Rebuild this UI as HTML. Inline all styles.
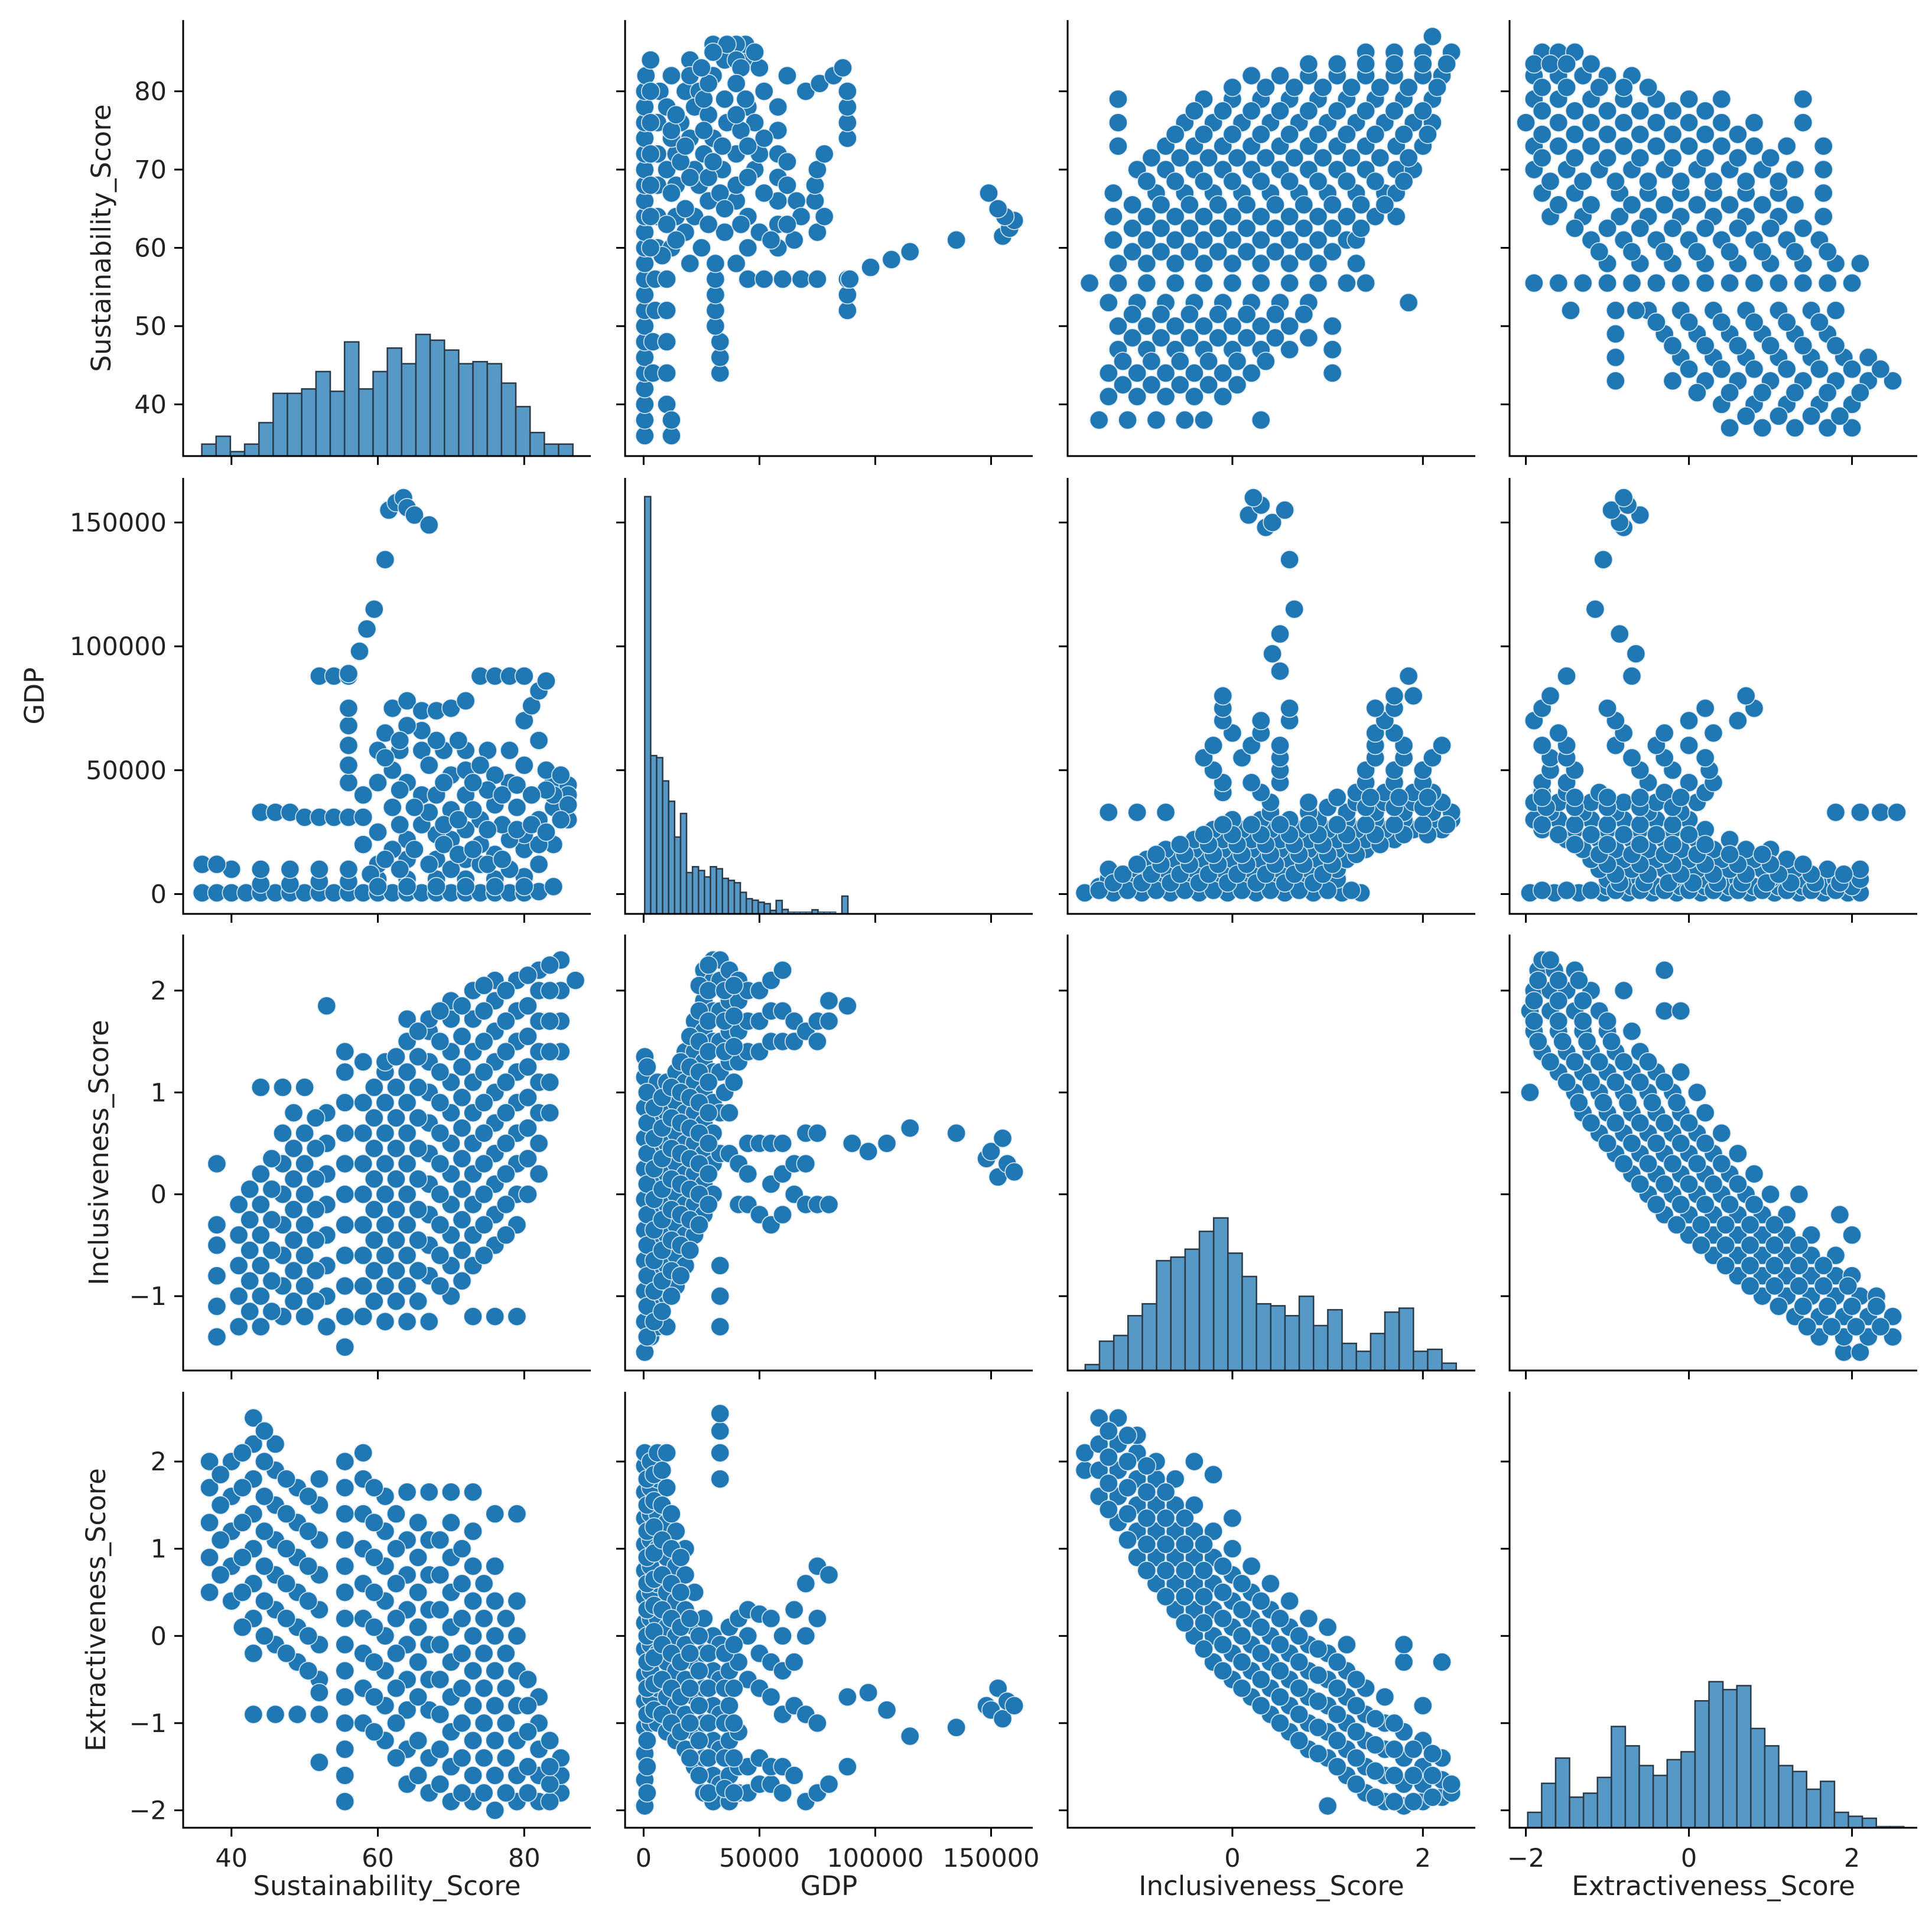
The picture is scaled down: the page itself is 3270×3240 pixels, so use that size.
<!DOCTYPE html>
<html><head><meta charset="utf-8"><style>
html,body{margin:0;padding:0;background:#fff}
svg{display:block}
text{font-family:"DejaVu Sans","Liberation Sans",sans-serif;fill:#222}
</style></head><body>
<svg id="chart" xmlns="http://www.w3.org/2000/svg" width="3270" height="3240" viewBox="0 0 3270 3240"></svg>
<script>
// ---- data ----
const varNames = ["Sustainability_Score","GDP","Inclusiveness_Score","Extractiveness_Score"];
const tickS = [40,50,60,70,80];
const tickSx = [40,60,80];
const tickG = [0,50,100,150];          // thousands
const tickGLabels = ["0","50000","100000","150000"];
const tickIx = [0,2];
const tickIy = [-1,0,1,2];
const tickEx = [-2,0,2];
const tickEy = [-2,-1,0,1,2];

const histS = [35,58,13,35,98,184,184,197,248,190,335,197,248,317,271,357,340,311,271,277,271,214,145,69,35,35];
const histG = [1434,544,537,457,387,264,345,142,162,149,127,162,155,122,115,107,74,52,47,40,35,12,46,15,7,7,7,7,14,7,7,7,2,61,2,2,2,2,2,2,2,2,2,2,2,2,2,2,2,2,2,2,2,2,2,2,2,2,2,2,2,2];
const histI = [30,148,177,277,337,555,573,613,703,771,593,475,337,327,277,375,227,307,137,97,187,295,315,97,107,37];
const histE = [78,225,353,155,175,255,513,415,315,265,345,385,643,740,700,720,503,415,315,285,195,235,78,58,48,8,8];

// pair arrays: flat [x,y,...]
const pairSG = [36,0.5,38,0.5,40,0.5,42,0.5,44,0.5,46,0.5,48,0.5,50,0.5,52,0.5,54,0.5,56,0.5,58,0.5,60,0.5,62,0.5,64,0.5,66,0.5,68,0.5,70,0.5,72,0.5,74,0.5,76,0.5,78,0.5,80,0.5,82,1,
44,4,48,4,52,5,56,5,60,6,64,6,68,6,72,6,76,6,80,7,
40,10,44,10,48,10,52,10,56,10,60,12,64,14,68,14,72,14,76,16,80,18,70,10,74,12,78,10,82,12,84,20,82,20,86,30,
36,12,38,12,44,33,46,33,48,33,50,31,52,31,54,31,56,31,58,31,
52,88,54,88,56,88,74,88,76,88,78,88,80,88,
60,58,63,58,66,58,69,58,72,58,75,58,78,58,
56,45,56,52,56,60,56,68,56,75,
58,20,60,25,62,35,64,45,62,50,61,65,62,75,64,78,66,74,68,62,70,48,72,40,74,30,76,36,78,45,80,52,82,62,84,46,86,44,85,38,82,30,80,24,78,22,74,20,72,26,70,22,68,24,66,28,64,22,62,18,66,40,68,40,70,34,72,50,74,52,76,48,66,66,64,68,68,74,70,75,72,78,80,70,81,76,82,82,83,86,58,40,60,45,63,28,67,33,75,42,77,28,79,35,84,35,86,40,84,40,86,36,83,42,
59,8,61,14,63,10,65,18,67,12,69,20,71,16,73,18,75,12,77,14,79,26,81,28,83,25,85,30,69,28,71,30,73,34,75,26,77,40,79,44,81,40,83,50,85,48,60,3,64,3,68,3,72,3,76,3,80,3,84,3,65,35,63,42,61,55,63,62,67,52,69,45,71,62,73,45,
56,89,57.5,98,58.5,107,59.5,115,61,135,61.5,155,62.5,158,63.5,160,64,156,65,153,67,149];

const pairSI = [38,-1.4,38,-1.1,38,-0.8,38,-0.5,38,-0.3,38,0.3,
41,-1.3,41,-1,41,-0.7,41,-0.4,41,-0.1,
44,-1.3,44,-1,44,-0.7,44,-0.4,44,-0.1,44,0.2,44,1.05,
47,-1.2,47,-0.9,47,-0.6,47,-0.3,47,0,47,0.3,47,0.6,47,1.05,
50,-1.2,50,-0.9,50,-0.6,50,-0.3,50,0,50,0.3,50,0.6,50,1.05,
53,-1.3,53,-1,53,-0.7,53,-0.4,53,-0.1,53,0.2,53,0.5,53,0.8,53,1.85,
55.5,-1.5,55.5,-1.2,55.5,-0.9,55.5,-0.6,55.5,-0.3,55.5,0,55.5,0.3,55.5,0.6,55.5,0.9,55.5,1.2,55.5,1.4,
58,-1.2,58,-0.9,58,-0.6,58,-0.3,58,0,58,0.3,58,0.6,58,0.9,58,1.3,
61,-1.25,61,-0.9,61,-0.6,61,-0.3,61,0,61,0.3,61,0.6,61,0.9,61,1.2,61,1.3,
64,-1.25,64,-0.9,64,-0.6,64,-0.3,64,0,64,0.3,64,0.6,64,0.9,64,1.2,64,1.5,64,1.72,
67,-1.25,67,-0.8,67,-0.5,67,-0.2,67,0.1,67,0.4,67,0.7,67,1,67,1.3,67,1.6,67,1.72,
70,-1,70,-0.7,70,-0.4,70,-0.1,70,0.2,70,0.5,70,0.8,70,1.1,70,1.4,70,1.72,70,1.9,
73,-1.2,73,-0.7,73,-0.4,73,-0.1,73,0.2,73,0.5,73,0.8,73,1.1,73,1.4,73,1.72,73,2,
76,-1.2,76,-0.5,76,-0.2,76,0.1,76,0.4,76,0.7,76,1,76,1.3,76,1.6,76,1.9,76,2.1,
79,-1.2,79,-0.3,79,0,79,0.3,79,0.6,79,0.9,79,1.2,79,1.5,79,1.8,79,2.1,
82,0.2,82,0.5,82,0.8,82,1.1,82,1.4,82,1.7,82,2,82,2.2,
85,1.4,85,1.7,85,2,85,2.3,87,2.1,
42.5,-1.15,42.5,-0.85,42.5,-0.55,42.5,-0.25,42.5,0.05,
45.5,-1.15,45.5,-0.85,45.5,-0.55,45.5,-0.25,45.5,0.05,45.5,0.35,
48.5,-1.05,48.5,-0.75,48.5,-0.45,48.5,-0.15,48.5,0.15,48.5,0.45,48.5,0.8,
51.5,-1.05,51.5,-0.75,51.5,-0.45,51.5,-0.15,51.5,0.15,51.5,0.45,51.5,0.75,
59.5,-1.05,59.5,-0.75,59.5,-0.45,59.5,-0.15,59.5,0.15,59.5,0.45,59.5,0.75,59.5,1.05,
62.5,-1.05,62.5,-0.75,62.5,-0.45,62.5,-0.15,62.5,0.15,62.5,0.45,62.5,0.75,62.5,1.05,62.5,1.35,
65.5,-1.05,65.5,-0.75,65.5,-0.45,65.5,-0.15,65.5,0.15,65.5,0.45,65.5,0.75,65.5,1.05,65.5,1.35,65.5,1.6,
68.5,-0.9,68.5,-0.6,68.5,-0.3,68.5,0,68.5,0.3,68.5,0.6,68.5,0.9,68.5,1.2,68.5,1.5,68.5,1.8,
71.5,-0.85,71.5,-0.55,71.5,-0.25,71.5,0.05,71.5,0.35,71.5,0.65,71.5,0.95,71.5,1.25,71.5,1.55,71.5,1.85,
74.5,-0.6,74.5,-0.3,74.5,0,74.5,0.3,74.5,0.6,74.5,0.9,74.5,1.2,74.5,1.5,74.5,1.8,74.5,2.05,
77.5,-0.4,77.5,-0.1,77.5,0.2,77.5,0.5,77.5,0.8,77.5,1.1,77.5,1.4,77.5,1.7,77.5,2,
80.5,0,80.5,0.35,80.5,0.65,80.5,0.95,80.5,1.25,80.5,1.55,80.5,1.85,80.5,2.15,
83.5,0.8,83.5,1.1,83.5,1.4,83.5,1.7,83.5,2,83.5,2.25];

const pairSE = [37,0.5,37,0.9,37,1.3,37,1.7,37,2,
40,0.4,40,0.8,40,1.2,40,1.6,40,2,
43,-0.2,43,0.2,43,0.6,43,1,43,1.4,43,1.8,43,2.2,43,2.5,43,-0.9,
46,-0.1,46,0.3,46,0.7,46,1.1,46,1.5,46,1.9,46,2.2,46,-0.9,
49,-0.3,49,0.1,49,0.5,49,0.9,49,1.3,49,1.7,49,-0.9,
52,-0.5,52,-0.1,52,0.3,52,0.7,52,1.1,52,1.5,52,1.8,52,-0.9,52,-0.65,52,-1.45,
55.5,-1.9,55.5,-1.6,55.5,-1.3,55.5,-1,55.5,-0.7,55.5,-0.4,55.5,-0.1,55.5,0.2,55.5,0.5,55.5,0.8,55.5,1.1,55.5,1.4,55.5,1.7,55.5,2,
58,-1,58,-0.6,58,-0.2,58,0.2,58,0.6,58,1,58,1.4,58,1.8,58,2.1,
61,-1.2,61,-0.8,61,-0.4,61,0,61,0.4,61,0.8,61,1.2,61,1.6,
64,-1.7,64,-1.3,64,-0.85,64,-0.5,64,-0.1,64,0.3,64,0.7,64,1.1,64,1.65,
67,-1.8,67,-1.4,67,-0.85,67,-0.5,67,-0.1,67,0.3,67,0.7,67,1.1,67,1.65,
70,-1.9,70,-1.5,70,-1.1,70,-0.7,70,-0.3,70,0.1,70,0.5,70,0.9,70,1.3,70,1.65,
73,-1.9,73,-1.6,73,-1.2,73,-0.8,73,-0.4,73,0,73,0.4,73,0.8,73,1.2,73,1.65,
76,-2,76,-1.6,76,-1.2,76,-0.8,76,-0.4,76,0,76,0.4,76,0.8,76,1.4,
79,-1.9,79,-1.6,79,-1.2,79,-0.8,79,-0.4,79,0,79,0.4,79,1.4,
82,-1.9,82,-1.6,82,-1.3,82,-1,82,-0.7,
85,-1.8,85,-1.6,85,-1.4,
38.5,0.7,38.5,1.1,38.5,1.5,38.5,1.85,
41.5,0.1,41.5,0.5,41.5,0.9,41.5,1.3,41.5,1.7,41.5,2.1,
44.5,0,44.5,0.4,44.5,0.8,44.5,1.2,44.5,1.6,44.5,2,44.5,2.35,
47.5,-0.2,47.5,0.2,47.5,0.6,47.5,1,47.5,1.4,47.5,1.8,
50.5,-0.4,50.5,0,50.5,0.4,50.5,0.8,50.5,1.2,50.5,1.6,
59.5,-1.1,59.5,-0.7,59.5,-0.3,59.5,0.1,59.5,0.5,59.5,0.9,59.5,1.3,59.5,1.7,
62.5,-1.4,62.5,-1,62.5,-0.6,62.5,-0.2,62.5,0.2,62.5,0.6,62.5,1,62.5,1.4,
65.5,-1.6,65.5,-1.2,65.5,-0.7,65.5,-0.3,65.5,0.1,65.5,0.5,65.5,0.9,65.5,1.3,
68.5,-1.7,68.5,-1.3,68.5,-0.9,68.5,-0.5,68.5,-0.1,68.5,0.3,68.5,0.7,68.5,1.1,
71.5,-1.8,71.5,-1.4,71.5,-1,71.5,-0.6,71.5,-0.2,71.5,0.2,71.5,0.6,71.5,1,
74.5,-1.8,74.5,-1.4,74.5,-1,74.5,-0.6,74.5,-0.2,74.5,0.2,74.5,0.6,
77.5,-1.8,77.5,-1.4,77.5,-1,77.5,-0.6,77.5,-0.2,77.5,0.2,
80.5,-1.8,80.5,-1.5,80.5,-1.1,80.5,-0.8,80.5,-0.5,
83.5,-1.9,83.5,-1.7,83.5,-1.5,83.5,-1.2];

const pairGI = [0.5,-1.55,0.5,-1.25,0.5,-0.95,0.5,-0.65,0.5,-0.35,0.5,-0.05,0.5,0.25,0.5,0.55,0.5,0.85,0.5,1.15,0.5,1.35,
3,-1.4,3,-1.1,3,-0.8,3,-0.5,3,-0.2,3,0.1,3,0.4,3,0.7,3,1,
6,-1.3,6,-1,6,-0.7,6,-0.4,6,-0.1,6,0.2,6,0.5,6,0.8,6,1.1,
10,-1.3,10,-1,10,-0.7,10,-0.4,10,-0.1,10,0.2,10,0.5,10,0.8,10,1.1,
14,-0.9,14,-0.6,14,-0.3,14,0,14,0.3,14,0.6,14,0.9,14,1.2,
18,-0.7,18,-0.4,18,-0.1,18,0.2,18,0.5,18,0.8,18,1.1,18,1.4,
22,-0.4,22,-0.1,22,0.2,22,0.5,22,0.8,22,1.1,22,1.4,22,1.7,
26,-0.2,26,0.1,26,0.4,26,0.7,26,1,26,1.3,26,1.6,26,1.9,26,2.2,
30,0,30,0.3,30,0.6,30,0.9,30,1.2,30,1.5,30,1.8,30,2.1,30,2.3,
33,-1.3,33,-1,33,-0.7,33,0.4,33,0.8,33,1.2,33,1.5,33,1.8,33,2.1,33,2.3,
37,0.4,37,0.8,37,1.3,37,1.6,37,1.9,37,2.2,
41,-0.1,41,0.3,41,1.3,41,1.6,41,1.9,41,2.1,
45,-0.1,45,0.2,45,0.5,45,1.4,45,1.7,45,2,
50,-0.2,50,0.5,50,1.4,50,1.7,50,2,
55,-0.3,55,0.1,55,0.5,55,1.5,55,1.8,55,2.1,
60,-0.2,60,0.2,60,0.5,60,1.5,60,1.8,60,2.2,
65,0,65,0.3,65,1.5,65,1.7,70,-0.1,70,0.3,70,0.6,70,1.6,
75,-0.1,75,0.6,75,1.5,75,1.7,80,-0.1,80,1.7,80,1.9,
1.5,-1.4,1.5,-1.1,1.5,-0.8,1.5,-0.5,1.5,-0.2,1.5,0.1,1.5,0.4,1.5,0.7,1.5,1,1.5,1.25,
4.5,-1.25,4.5,-0.95,4.5,-0.65,4.5,-0.35,4.5,-0.05,4.5,0.25,4.5,0.55,4.5,0.85,
8,-1.15,8,-0.85,8,-0.55,8,-0.25,8,0.05,8,0.35,8,0.65,8,0.95,
12,-1,12,-0.75,12,-0.45,12,-0.15,12,0.15,12,0.45,12,0.75,12,1.05,
16,-0.8,16,-0.5,16,-0.2,16,0.1,16,0.4,16,0.7,16,1,16,1.3,
20,-0.55,20,-0.25,20,0.05,20,0.35,20,0.65,20,0.95,20,1.25,20,1.55,
24,-0.3,24,0,24,0.3,24,0.6,24,0.9,24,1.2,24,1.5,24,1.8,24,2.05,
28,-0.1,28,0.2,28,0.5,28,0.8,28,1.1,28,1.4,28,1.7,28,2,28,2.25,
35,1,35,1.4,35,1.7,35,2,39,1.1,39,1.45,39,1.75,39,2.05,
88,1.85,90,0.5,97,0.42,105,0.5,115,0.65,135,0.6,148,0.35,150,0.42,153,0.17,155,0.55,157,0.3,160,0.22];

const pairGE = [0.5,-1.95,0.5,-1.65,0.5,-1.35,0.5,-1.05,0.5,-0.75,0.5,-0.45,0.5,-0.15,0.5,0.15,0.5,0.45,0.5,0.75,0.5,1.05,0.5,1.35,0.5,1.65,0.5,1.95,0.5,2.1,
3,-1,3,-0.7,3,-0.4,3,-0.1,3,0.2,3,0.5,3,0.8,3,1.1,3,1.4,3,1.7,3,2,
6,-1,6,-0.6,6,-0.2,6,0.2,6,0.6,6,1,6,1.4,6,1.8,6,2.1,
10,-1.1,10,-0.7,10,-0.3,10,0.1,10,0.5,10,0.9,10,1.3,10,1.7,10,2.1,
14,-1.2,14,-0.8,14,-0.4,14,0,14,0.4,14,0.8,14,1.2,
18,-1.3,18,-0.9,18,-0.5,18,-0.1,18,0.3,18,0.7,18,1,
22,-1.5,22,-1.1,22,-0.7,22,-0.3,22,0.1,22,0.5,
26,-1.8,26,-1.4,26,-1,26,-0.6,26,-0.2,26,0.2,
30,-1.9,30,-1.6,30,-1.2,30,-0.8,30,-0.4,30,0,
33,1.8,33,2.1,33,2.35,33,2.55,33,-1.7,33,-1.3,33,-0.9,33,-0.5,33,-0.1,
37,-1.9,37,-1.6,37,-1.2,37,-0.8,37,-0.4,37,0.1,
41,-1.8,41,-1.5,41,-1.1,41,-0.3,41,0.2,
45,-1.8,45,-1.5,45,-0.5,45,0,45,0.3,
50,-1.7,50,-1.4,50,-0.6,50,-0.2,50,0.25,
55,-1.7,55,-1.5,55,-0.7,55,-0.3,55,0.2,
60,-1.8,60,-1.5,60,-0.9,60,-0.4,60,0,
65,-1.6,65,-0.8,65,-0.3,65,0.3,70,-1.9,70,-0.9,70,0,70,0.6,
75,-1.8,75,-1,75,0.2,75,0.8,80,-1.7,80,0.7,
1.5,-1.8,1.5,-1.5,1.5,-1.2,1.5,-0.9,1.5,-0.6,1.5,-0.3,1.5,0,1.5,0.3,1.5,0.6,1.5,0.9,1.5,1.2,1.5,1.5,1.5,1.8,
4.5,-0.85,4.5,-0.55,4.5,-0.25,4.5,0.05,4.5,0.35,4.5,0.65,4.5,0.95,4.5,1.25,4.5,1.55,4.5,1.85,
8,-0.9,8,-0.5,8,-0.1,8,0.3,8,0.7,8,1.1,8,1.5,8,1.9,
12,-1,12,-0.6,12,-0.2,12,0.2,12,0.6,12,1,12,1.4,
16,-1.1,16,-0.7,16,-0.3,16,0.1,16,0.5,16,0.9,
20,-1.4,20,-1,20,-0.6,20,-0.2,20,0.2,
24,-1.6,24,-1.2,24,-0.8,24,-0.4,24,0,
28,-1.8,28,-1.4,28,-1,28,-0.6,28,-0.2,
35,-1.75,35,-1.4,35,-1,35,-0.6,35,-0.2,
39,-1.8,39,-1.4,39,-1,39,-0.6,39,-0.1,
88,-1.5,88,-0.7,97,-0.65,105,-0.85,115,-1.15,135,-1.05,148,-0.8,150,-0.85,153,-0.6,155,-0.95,157,-0.75,160,-0.8];

const pairIE = [-1.55,1.9,-1.55,2.1,
-1.4,1.6,-1.4,1.9,-1.4,2.2,-1.4,2.5,
-1.2,1.3,-1.2,1.6,-1.2,1.9,-1.2,2.2,-1.2,2.5,
-1,0.9,-1,1.2,-1,1.5,-1,1.8,-1,2.1,-1,2.3,
-0.8,0.6,-0.8,0.9,-0.8,1.2,-0.8,1.5,-0.8,1.8,-0.8,2,
-0.6,0.3,-0.6,0.6,-0.6,0.9,-0.6,1.2,-0.6,1.5,-0.6,1.8,
-0.4,0,-0.4,0.3,-0.4,0.6,-0.4,0.9,-0.4,1.2,-0.4,1.5,-0.4,2,
-0.2,-0.3,-0.2,0,-0.2,0.3,-0.2,0.6,-0.2,0.9,-0.2,1.2,-0.2,1.85,
0,-0.5,0,-0.2,0,0.1,0,0.4,0,0.7,0,1,0,1.35,
0.2,-0.7,0.2,-0.4,0.2,-0.1,0.2,0.2,0.2,0.5,0.2,0.8,
0.4,-0.9,0.4,-0.6,0.4,-0.3,0.4,0,0.4,0.3,0.4,0.6,
0.6,-1.1,0.6,-0.8,0.6,-0.5,0.6,-0.2,0.6,0.1,0.6,0.4,
0.8,-1.3,0.8,-1,0.8,-0.7,0.8,-0.4,0.8,-0.1,0.8,0.2,
1,-1.4,1,-1.1,1,-0.8,1,-0.5,1,-0.2,1,0.1,1,-1.95,
1.2,-1.6,1.2,-1.3,1.2,-1,1.2,-0.7,1.2,-0.4,1.2,-0.1,
1.4,-1.8,1.4,-1.5,1.4,-1.2,1.4,-0.9,1.4,-0.6,
1.6,-1.9,1.6,-1.6,1.6,-1.3,1.6,-1,1.6,-0.7,
1.8,-1.95,1.8,-1.7,1.8,-1.4,1.8,-1.1,1.8,-0.3,1.8,-0.1,
2,-1.9,2,-1.7,2,-1.5,2,-1.2,2,-0.8,
2.2,-1.85,2.2,-1.65,2.2,-1.4,2.2,-0.3,2.3,-1.8,2.3,-1.7,
-1.3,1.45,-1.3,1.75,-1.3,2.05,-1.3,2.35,
-1.1,1.1,-1.1,1.4,-1.1,1.7,-1.1,2,-1.1,2.3,
-0.9,0.75,-0.9,1.05,-0.9,1.35,-0.9,1.65,-0.9,1.95,
-0.7,0.45,-0.7,0.75,-0.7,1.05,-0.7,1.35,-0.7,1.65,
-0.5,0.15,-0.5,0.45,-0.5,0.75,-0.5,1.05,-0.5,1.35,
-0.3,-0.15,-0.3,0.15,-0.3,0.45,-0.3,0.75,-0.3,1.05,
-0.1,-0.4,-0.1,-0.1,-0.1,0.2,-0.1,0.5,-0.1,0.8,
0.1,-0.6,0.1,-0.3,0.1,0,0.1,0.3,0.1,0.6,
0.3,-0.8,0.3,-0.5,0.3,-0.2,0.3,0.1,0.3,0.4,
0.5,-1,0.5,-0.7,0.5,-0.4,0.5,-0.1,0.5,0.2,
0.7,-1.2,0.7,-0.9,0.7,-0.6,0.7,-0.3,0.7,0,
0.9,-1.35,0.9,-1.05,0.9,-0.75,0.9,-0.45,0.9,-0.15,
1.1,-1.5,1.1,-1.2,1.1,-0.9,1.1,-0.6,1.1,-0.3,
1.3,-1.7,1.3,-1.4,1.3,-1.1,1.3,-0.8,1.3,-0.5,
1.5,-1.85,1.5,-1.55,1.5,-1.25,1.5,-0.95,
1.7,-1.9,1.7,-1.6,1.7,-1.3,1.7,-1,
1.9,-1.9,1.9,-1.6,1.9,-1.3,
2.1,-1.85,2.1,-1.6,2.1,-1.35];

// ---- layout ----
const NS="http://www.w3.org/2000/svg";
const svg=document.getElementById('chart');
const colL=[310,1058,1807,2555], rowT=[34,809,1582,2356], W=690, H=738;
const dom=[[33.4,89.1],[-8,168],[-1.73,2.55],[-2.2,2.8]];
const xTicks=[tickSx,tickG,tickIx,tickEx];
const yTicks=[tickS,tickG,tickIy,tickEy];
function xScale(v,c){return x=>colL[c]+(x-dom[v][0])/(dom[v][1]-dom[v][0])*W;}
function yScale(v,r){return y=>rowT[r]+H-(y-dom[v][0])/(dom[v][1]-dom[v][0])*H;}
function lab(v,t){return v===1?tickGLabels[tickG.indexOf(t)]:(t<0?'\u2212'+(-t):String(t));}
function mk(tag,attrs,parent){const e=document.createElementNS(NS,tag);for(const k in attrs)e.setAttribute(k,attrs[k]);(parent||svg).appendChild(e);return e;}

const pairs={"0-1":pairSG,"0-2":pairSI,"0-3":pairSE,"1-2":pairGI,"1-3":pairGE,"2-3":pairIE};
const hists=[histS,histG,histI,histE];
const histStart=[35.95,0.47,-1.545,-1.977];
const histW=[1.95,2.58,0.1498,0.171];
const histFrac=[0.279,0.957,0.35,0.335];

for(let r=0;r<4;r++){for(let c=0;c<4;c++){
  const g=mk('g',{});
  
  
  const X=xScale(c,c), Y=yScale(r,r);
  if(r===c){
    const h=hists[c], mx=Math.max(...h)/histFrac[c];
    h.forEach((n,i)=>{
      const x0=X(histStart[c]+i*histW[c]), x1=X(histStart[c]+(i+1)*histW[c]);
      const hh=n/mx*H;
      const b=mk('rect',{x:x0,y:rowT[r]+H-hh,width:x1-x0,height:hh,fill:'#5799c6',stroke:'#2a3a48','stroke-width':hh>4?2.5:1},g);
      
      
    });
  } else {
    const a=Math.min(r,c), b=Math.max(r,c), arr=pairs[a+'-'+b];
    for(let i=0;i<arr.length;i+=2){
      const va=arr[i], vb=arr[i+1];
      const px = c===a ? X(va) : X(vb);
      const py = r===a ? Y(va) : Y(vb);
      const p=mk('circle',{cx:px,cy:py,r:15.5,fill:'#1f77b4',stroke:'#dfeaf3','stroke-width':1.5},g);
      
      
    }
  }
  const L=colL[c], T=rowT[r], B=T+H;
  mk('line',{x1:L,y1:T,x2:L,y2:B+1.5,stroke:'#000','stroke-width':3},g);
  mk('line',{x1:L-1.5,y1:B,x2:L+W,y2:B,stroke:'#000','stroke-width':3},g);
  yTicks[r].forEach(t=>{const y=Y(t);mk('line',{x1:L-15,y1:y,x2:L,y2:y,stroke:'#000','stroke-width':3},g);
    if(c===0){const tx=mk('text',{x:L-28,y:y+15,'text-anchor':'end','font-size':43},g);tx.textContent=lab(r,t);
      }});
  xTicks[c].forEach(t=>{const x=X(t);mk('line',{x1:x,y1:B,x2:x,y2:B+15,stroke:'#000','stroke-width':3},g);
    if(r===3){const tx=mk('text',{x:x,y:B+66,'text-anchor':'middle','font-size':43},g);tx.textContent=lab(c,t);
      }});
}}
const ylx=[172,59,168,163];
for(let i=0;i<4;i++){
  const cx=colL[i]+W/2;
  const t=mk('text',{x:cx,y:3208,'text-anchor':'middle','font-size':45});
  t.textContent=varNames[i];
  
  
  const cy=rowT[i]+H/2;
  const u=mk('text',{x:ylx[i],y:cy,'text-anchor':'middle','font-size':45,transform:`rotate(-90 ${ylx[i]} ${cy})`,dy:15});
  u.textContent=varNames[i];
  
  
}
</script>
</body></html>
